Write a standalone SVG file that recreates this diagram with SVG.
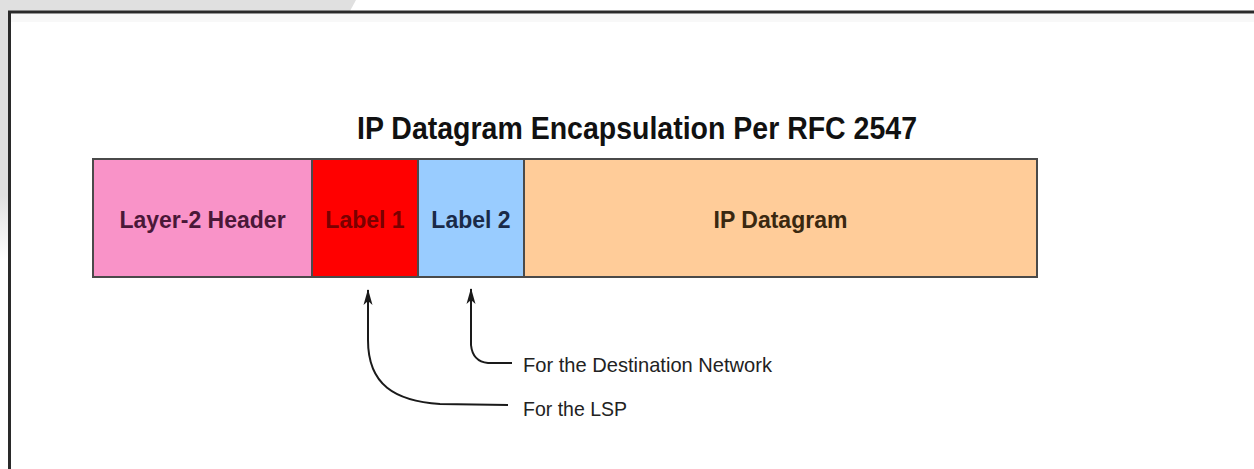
<svg xmlns="http://www.w3.org/2000/svg" width="1254" height="469" viewBox="0 0 1254 469">
  <defs>
    <linearGradient id="leftFade" x1="0" y1="0" x2="0" y2="1">
      <stop offset="0" stop-color="#e0e0e0"/>
      <stop offset="0.75" stop-color="#e0e0e0"/>
      <stop offset="1" stop-color="#ffffff"/>
    </linearGradient>
    <marker id="arrow" viewBox="0 0 16 10" refX="15" refY="5" markerWidth="16" markerHeight="10" markerUnits="userSpaceOnUse" orient="auto">
      <path d="M0,0.5 L16,5 L0,9.5 L4,5 Z" fill="#1a1a1a"/>
    </marker>
    <style>
      .field { stroke: #4a4a4a; stroke-width: 2; }
      .fieldText { font-family: "Liberation Sans", Arial, sans-serif; font-size: 23px; font-weight: bold; text-anchor: middle; }
      .note { font-family: "Liberation Sans", Arial, sans-serif; font-size: 21px; fill: #222; }
      .link { fill: none; stroke: #1a1a1a; stroke-width: 2; marker-end: url(#arrow); }
    </style>
  </defs>

  <!-- page background and frame -->
  <rect x="0" y="0" width="1254" height="469" fill="#ffffff"/>
  <polygon points="0,0 356,0 350,11 0,11" fill="#e0e0e0"/>
  <rect x="0" y="0" width="8" height="260" fill="url(#leftFade)"/>
  <rect x="11" y="14" width="1243" height="8" fill="#f8f8f8"/>
  <line x1="8" y1="12" x2="1254" y2="12" stroke="#2a2a2a" stroke-width="3"/>
  <line x1="9.5" y1="11" x2="9.5" y2="469" stroke="#2a2a2a" stroke-width="3"/>

  <!-- title -->
  <text x="637" y="139" font-family="Liberation Sans, Arial, sans-serif" font-size="31" font-weight="bold" fill="#111" text-anchor="middle" textLength="560" lengthAdjust="spacingAndGlyphs">IP Datagram Encapsulation Per RFC 2547</text>

  <!-- packet fields -->
  <g id="layer2-header">
    <rect class="field" x="93" y="159" width="219" height="118" fill="#f993c8"/>
    <text class="fieldText" x="202.5" y="228" fill="#4a1838">Layer-2 Header</text>
  </g>
  <g id="label-1">
    <rect class="field" x="312" y="159" width="106" height="118" fill="#ff0000"/>
    <text class="fieldText" x="365" y="228" fill="#7a0000">Label 1</text>
  </g>
  <g id="label-2">
    <rect class="field" x="418" y="159" width="106" height="118" fill="#99ccff"/>
    <text class="fieldText" x="471" y="228" fill="#1a2a48">Label 2</text>
  </g>
  <g id="ip-datagram">
    <rect class="field" x="524" y="159" width="513" height="118" fill="#ffcc99"/>
    <text class="fieldText" x="780.5" y="228" fill="#3a2810">IP Datagram</text>
  </g>

  <!-- annotation texts -->
  <g id="note-destination">
    <text class="note" x="523" y="372" textLength="249" lengthAdjust="spacingAndGlyphs">For the Destination Network</text>
  </g>
  <g id="note-lsp">
    <text class="note" x="523" y="416" textLength="104" lengthAdjust="spacingAndGlyphs">For the LSP</text>
  </g>

  <!-- connectors -->
  <g id="connectors">
    <path class="link" d="M512,363 L488,363 C477,362 472,355 471,345 L471,289"/>
    <path class="link" d="M508,405 L440,404 C395,401 368,385 368,340 L368,290"/>
  </g>
</svg>
